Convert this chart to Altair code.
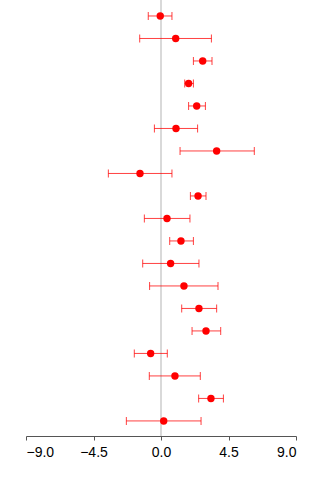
import altair as alt
import pandas as pd

# Study rows, top to bottom: point estimate and confidence limits
row = list(range(1, 20))
estimate = [-0.05, 0.98, 2.78, 1.84, 2.38, 1.00, 3.71, -1.40, 2.47, 0.40,
            1.33, 0.64, 1.53, 2.53, 3.00, -0.69, 0.93, 3.33, 0.18]
lower = [-0.85, -1.42, 2.16, 1.58, 1.84, -0.44, 1.27, -3.51, 1.96, -1.11,
         0.58, -1.22, -0.76, 1.38, 2.07, -1.78, -0.78, 2.51, -2.31]
upper = [0.73, 3.36, 3.40, 2.16, 2.96, 2.44, 6.22, 0.73, 3.00, 1.93,
         2.16, 2.53, 3.80, 3.71, 3.98, 0.42, 2.62, 4.16, 2.67]
x_ticks = [-9.0, -4.5, 0.0, 4.5, 9.0]

df = pd.DataFrame({"row": row, "est": estimate, "lo": lower, "hi": upper})

x_scale = alt.Scale(domain=[-9, 9], nice=False, zero=False)
y_scale = alt.Scale(domain=[0.29, 19.67], reverse=True, nice=False, zero=False)
y_enc = alt.Y("row:Q", scale=y_scale, axis=None)

zero_line = alt.Chart(pd.DataFrame({"x": [0]})).mark_rule(
    color="#d9d9d9", strokeWidth=2
).encode(
    x=alt.X("x:Q", scale=x_scale,
            axis=alt.Axis(values=x_ticks, format=".1f", title=None, grid=False,
                          domainColor="#555555", tickColor="#555555",
                          tickSize=4, labelFont="Liberation Sans",
                          labelFontSize=14, labelColor="black",
                          labelPadding=5))
)

bars = alt.Chart(df).mark_rule(color="red", strokeWidth=1, opacity=0.75).encode(
    x=alt.X("lo:Q", scale=x_scale), x2="hi:Q", y=y_enc
)

cap_lo = alt.Chart(df).mark_tick(color="red", size=8, thickness=1, opacity=0.75,
                                 orient="vertical").encode(
    x=alt.X("lo:Q", scale=x_scale), y=y_enc
)
cap_hi = alt.Chart(df).mark_tick(color="red", size=8, thickness=1, opacity=0.75,
                                 orient="vertical").encode(
    x=alt.X("hi:Q", scale=x_scale), y=y_enc
)

points = alt.Chart(df).mark_point(filled=True, color="red", size=55, opacity=1,
                                  shape="circle").encode(
    x=alt.X("est:Q", scale=x_scale), y=y_enc
)

chart = alt.layer(zero_line, bars, cap_lo, cap_hi, points).properties(
    width=270, height=436,
    autosize=alt.AutoSizeParams(type="none"),
    padding={"left": 26, "top": 0, "right": 24, "bottom": 44},
).configure(
    background="white", view=alt.ViewConfig(stroke=None)
)

chart.save("out.html", embed_options={"renderer": "svg", "actions": False})
